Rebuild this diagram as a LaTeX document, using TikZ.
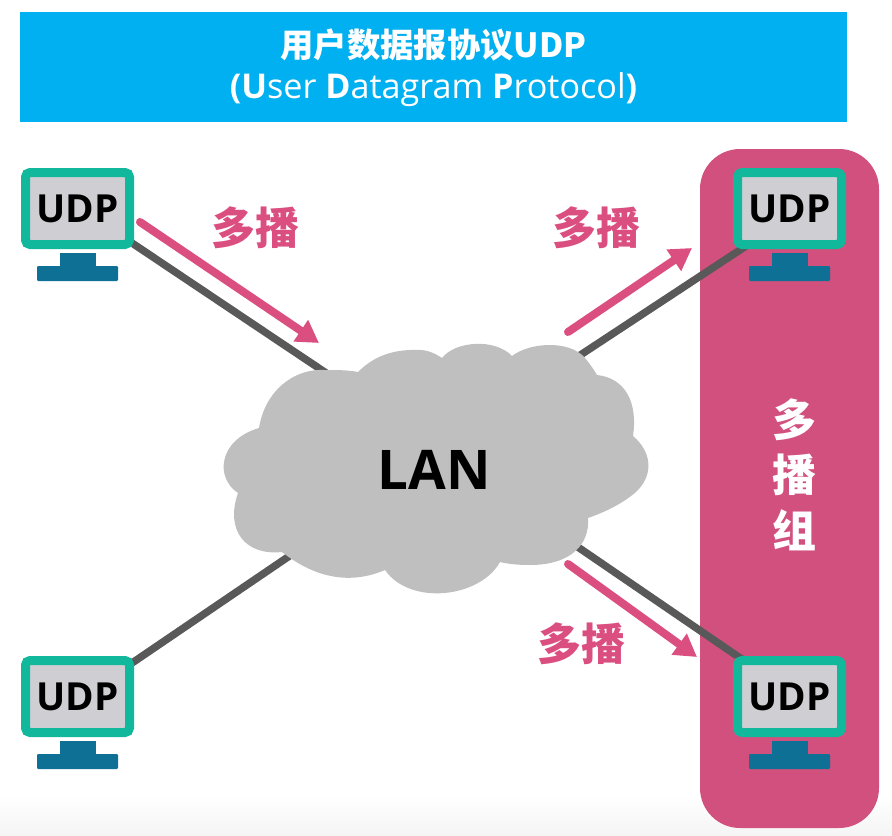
\documentclass[tikz,border=0pt]{standalone}
\usepackage{fontspec}
\setmainfont{Open Sans}
\newfontfamily\cjk{Noto Sans CJK SC}
\usetikzlibrary{arrows.meta}
\definecolor{hdr}{HTML}{00B0F0}
\definecolor{grp}{HTML}{D2507E}
\definecolor{arr}{HTML}{DB4F80}
\definecolor{lnk}{HTML}{595959}
\definecolor{cld}{HTML}{BFBFBF}
\definecolor{teal}{HTML}{12B89C}
\definecolor{scr}{HTML}{CFCFD3}
\definecolor{std}{HTML}{0D7094}
\tikzset{
  header/.style={fill=hdr,minimum width=620.25pt,minimum height=82.5pt,inner sep=0pt},
  titletext/.style={text=white,font=\fontsize{25.6}{30}\selectfont,inner sep=0pt},
  monbox/.style={draw=teal,fill=scr,line width=6.75pt,rounded corners=3.4pt,minimum width=78pt,minimum height=54pt,inner sep=0pt,font=\fontsize{29}{34}\selectfont\bfseries},
  neckpart/.style={fill=std,minimum width=27pt,minimum height=9.75pt,inner sep=0pt},
  basepart/.style={fill=std,rounded corners=0.8pt,minimum width=60.75pt,minimum height=11.25pt,inner sep=0pt},
  linkline/.style={draw=lnk,line width=5.6pt},
  castarrow/.style={draw=arr,line width=6pt,line cap=round,-{Triangle[length=16.5pt,width=18.5pt]}},
  castlabel/.style={text=arr,font=\cjk\bfseries\fontsize{33}{36}\selectfont,inner sep=0pt},
  grouplabel/.style={text=white,font=\cjk\bfseries\fontsize{33}{36}\selectfont,inner sep=0pt}
}
\newcommand{\udpmonitor}[3]{%
  \node[neckpart] (#1n) at (#2,#3+51) {};
  \node[basepart] (#1b) at (#2,#3+65) {};
  \node[monbox] (#1) at (#2,#3) {UDP};
}
\begin{document}
\begin{tikzpicture}[x=0.75pt,y=-0.75pt]
\useasboundingbox (0,0) rectangle (892,835);
\shade[top color=white,bottom color=black!4] (0,795) rectangle (892,835);
\node[header] (hd) at (433.5,67) {};
\node[titletext,font=\cjk\bfseries\fontsize{25}{30}\selectfont] (t1) at (433.5,45) {用户数据报协议UDP};
\node[titletext] (t2) at (433.5,90) {{\bfseries(U}ser {\bfseries D}atagram {\bfseries P}rotocol{\bfseries)}};
\node[fill=grp,rounded corners=30pt,minimum width=134.25pt,minimum height=509.25pt,inner sep=0pt] (grpbox) at (789.5,488.5) {};

\coordinate (cc) at (434,470);
\coordinate (e1) at (350,389);
\coordinate (e2) at (550,375);
\coordinate (e3) at (310,542);
\coordinate (e4) at (550,528);
\coordinate (m1) at (132,243);
\coordinate (m2) at (746,246);
\coordinate (m3) at (132,663);
\coordinate (m4) at (746,662);
\draw[linkline] (m1) -- (e1);
\draw[linkline] (m2) -- (e2);
\draw[linkline] (m3) -- (e3);
\draw[linkline] (m4) -- (e4);

\fill[cld] (358,372)
  .. controls (375,355) and (395,349) .. (420,350)
  .. controls (428,350) and (436,354) .. (442,358)
  .. controls (455,341) and (495,338) .. (512,356)
  .. controls (530,342) and (570,340) .. (585,358)
  .. controls (590,364) and (594,370) .. (597,375)
  .. controls (625,378) and (638,402) .. (633,436)
  .. controls (652,452) and (654,475) .. (636,492)
  .. controls (622,504) and (605,512) .. (588,518)
  .. controls (590,545) and (570,565) .. (530,565)
  .. controls (518,565) and (508,564) .. (500,562)
  .. controls (480,598) and (410,606) .. (385,570)
  .. controls (350,585) and (315,578) .. (282,552)
  .. controls (245,556) and (225,530) .. (238,493)
  .. controls (215,478) and (218,440) .. (259,428)
  .. controls (265,390) and (295,368) .. (325,370)
  .. controls (337,370) and (348,370) .. (358,372) -- cycle;
\node[font=\fontsize{41}{48}\selectfont\bfseries,inner sep=0pt] (lan) at (434,470) {LAN};

\udpmonitor{a}{77.5}{208.5}
\udpmonitor{b}{789.5}{208.5}
\udpmonitor{c}{77.5}{696.5}
\udpmonitor{d}{789.5}{696.5}

\coordinate (s1) at (140,222); \coordinate (f1) at (319,343);
\coordinate (s2) at (568,332); \coordinate (f2) at (692,248);
\coordinate (s3) at (568,564); \coordinate (f3) at (697,657);
\draw[castarrow] (s1) -- (f1);
\draw[castarrow] (s2) -- (f2);
\draw[castarrow] (s3) -- (f3);

\node[castlabel] (l1) at (255,228) {多播};
\node[castlabel] (l2) at (596,228) {多播};
\node[castlabel] (l3) at (581,644) {多播};
\node[grouplabel] (g1) at (794,420) {多};
\node[grouplabel] (g2) at (794,475) {播};
\node[grouplabel] (g3) at (794,530) {组};
\end{tikzpicture}
\end{document}
